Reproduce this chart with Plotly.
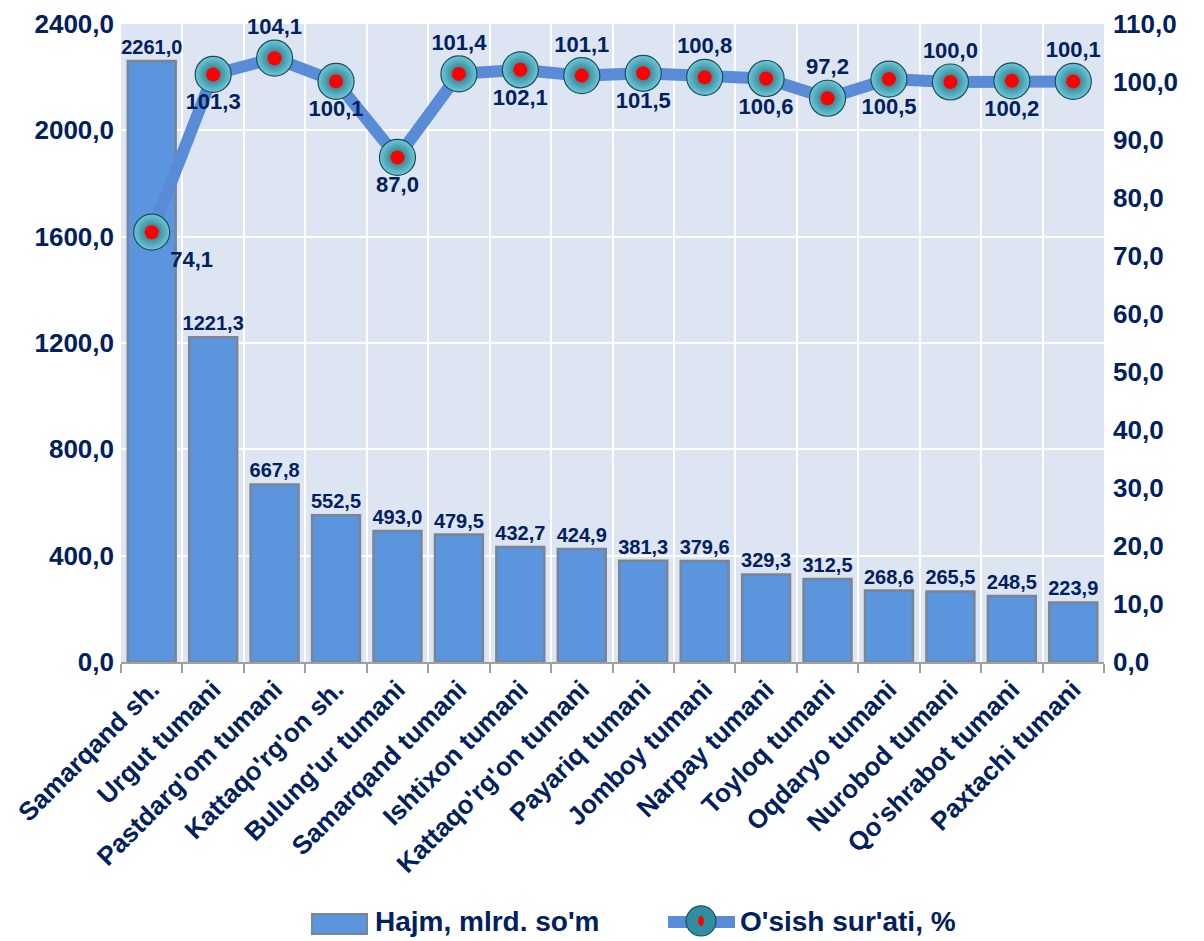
import plotly.graph_objects as go

# data
districts = ["Samarqand sh.", "Urgut tumani", "Pastdarg'om tumani", "Kattaqo'rg'on sh.",
             "Bulung'ur tumani", "Samarqand tumani", "Ishtixon tumani", "Kattaqo'rg'on tumani",
             "Payariq tumani", "Jomboy tumani", "Narpay tumani", "Toyloq tumani",
             "Oqdaryo tumani", "Nurobod tumani", "Qo'shrabot tumani", "Paxtachi tumani"]
hajm = [2261.0, 1221.3, 667.8, 552.5, 493.0, 479.5, 432.7, 424.9,
        381.3, 379.6, 329.3, 312.5, 268.6, 265.5, 248.5, 223.9]
osish = [74.1, 101.3, 104.1, 100.1, 87.0, 101.4, 102.1, 101.1,
         101.5, 100.8, 100.6, 97.2, 100.5, 100.0, 100.2, 100.1]
label_pos = ["bottom right", "bottom center", "top center", "bottom center", "bottom center",
             "top center", "bottom center", "top center", "bottom center", "top center",
             "bottom center", "top center", "bottom center", "top center", "bottom center",
             "top center"]

navy = "#002060"
font_family = "Liberation Sans, Arial, sans-serif"
bar_color = "#5b95de"
line_color = "#5a8bd6"


def fmt(v):
    return f"{v:.1f}".replace(".", ",")


fig = go.Figure()

fig.add_trace(go.Bar(
    x=districts, y=hajm, name="Hajm, mlrd. so'm",
    width=0.78,
    marker=dict(color=bar_color, line=dict(color="#7a8594", width=2.5)),
    text=[fmt(v) for v in hajm], textposition="outside", cliponaxis=False,
    constraintext="none",
    textfont=dict(family=font_family, size=20, color=navy, weight="bold"),
    showlegend=False,
))

fig.add_trace(go.Scatter(
    x=districts, y=osish, name="O'sish sur'ati, %", yaxis="y2",
    mode="lines+markers",
    line=dict(color=line_color, width=12),
    marker=dict(size=36, color="#6cc9d8", line=dict(color="#1d4d5c", width=1.2),
                gradient=dict(type="radial", color="#1f6676")),
    cliponaxis=False, showlegend=False,
))

# red centre dots on the line markers
fig.add_trace(go.Scatter(
    x=districts, y=osish, yaxis="y2", mode="markers", showlegend=False,
    marker=dict(size=14, color="#ff0000"), hoverinfo="skip", cliponaxis=False,
))

# value labels of the line (invisible markers keep the labels a bit closer)
fig.add_trace(go.Scatter(
    x=districts, y=osish, yaxis="y2", mode="markers+text", showlegend=False,
    marker=dict(size=28, opacity=0), hoverinfo="skip", cliponaxis=False,
    text=[fmt(v) for v in osish], textposition=label_pos,
    textfont=dict(family=font_family, size=22, color=navy, weight="bold"),
))

# legend drawn by hand (paper coords), to get the wide Excel-style keys
legend_y = -0.4075
shapes = [
    dict(type="rect", xref="paper", yref="paper", x0=0.1943, x1=0.2503, y0=-0.4263, y1=-0.3950,
         fillcolor=bar_color, line=dict(color="#7a8594", width=2)),
    dict(type="line", xref="paper", yref="paper", x0=0.5565, x1=0.6246, y0=legend_y, y1=legend_y,
         line=dict(color=line_color, width=12)),
    dict(type="circle", xref="paper", yref="paper", x0=0.5748, x1=0.6053, y0=-0.4295, y1=-0.3824,
         fillcolor="#2f8fa0", line=dict(color="#1d4d5c", width=1.2)),
    dict(type="circle", xref="paper", yref="paper", x0=0.5872, x1=0.5929, y0=-0.4138, y1=-0.3981,
         fillcolor="#ff0000", line=dict(width=0)),
]
annotations = [
    dict(text="Hajm, mlrd. so'm", xref="paper", yref="paper", x=0.2564, y=legend_y,
         xanchor="left", yanchor="middle", showarrow=False,
         font=dict(family=font_family, size=28, color=navy, weight="bold")),
    dict(text="O'sish sur'ati, %", xref="paper", yref="paper", x=0.6277, y=legend_y,
         xanchor="left", yanchor="middle", showarrow=False,
         font=dict(family=font_family, size=28, color=navy, weight="bold")),
]

# page body has an 8px margin, so the figure is 8px smaller than the window
fig.update_layout(
    width=1196, height=933,
    margin=dict(l=113, r=100, t=16, b=279),
    paper_bgcolor="white", plot_bgcolor="#dce5f1",
    separators=", ",
    font=dict(family=font_family, color=navy, weight="bold"),
    showlegend=False,
    shapes=shapes, annotations=annotations,
    xaxis=dict(
        range=[-0.5, len(districts) - 0.5],
        tickson="boundaries", showgrid=True, gridcolor="white", gridwidth=2,
        tickangle=-45, tickfont=dict(size=26, color=navy, weight="bold"),
        ticks="outside", ticklen=9, tickcolor="#a0a0a0", tickwidth=1.5,
        showline=True, linecolor="#a0a0a0", linewidth=1.5, automargin=False,
    ),
    yaxis=dict(
        range=[0, 2400], dtick=400, tickformat=".1f",
        showgrid=True, gridcolor="white", gridwidth=2, zeroline=False,
        tickfont=dict(size=26, color=navy, weight="bold"), automargin=False,
        ticklabelstandoff=6, ticklabeloverflow="allow",
    ),
    yaxis2=dict(
        range=[0, 110], dtick=10, tickformat=".1f", overlaying="y", side="right",
        showgrid=False, zeroline=False, automargin=False,
        tickfont=dict(size=26, color=navy, weight="bold"),
        ticklabelstandoff=8, ticklabeloverflow="allow",
    ),
)

fig.write_html("out.html")
